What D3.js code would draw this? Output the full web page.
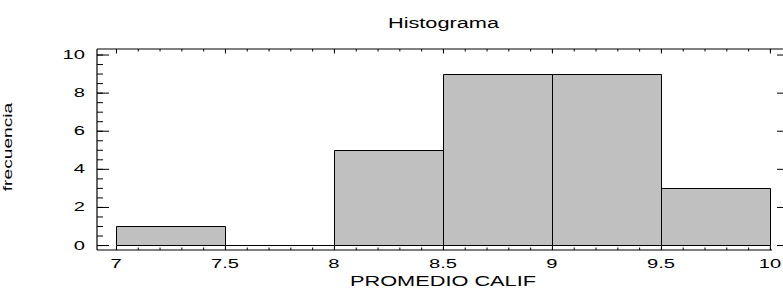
<!DOCTYPE html>
<html>
<head>
<script src="https://cdn.jsdelivr.net/npm/d3@7/dist/d3.min.js"></script>
<style>
  body { margin: 0; background: #fff; }
  svg { font-family: "Liberation Sans", Arial, sans-serif; }
  .tick line { stroke: #000; stroke-width: 1; }
  .frame { stroke: #000; stroke-width: 1.2; }
  .bar { fill: #c0c0c0; stroke: #000; stroke-width: 1; }
</style>
</head>
<body>
<div id="chart"></div>
<script>
// data
var binStart = [7, 7.5, 8, 8.5, 9, 9.5];
var binEnd   = [7.5, 8, 8.5, 9, 9.5, 10];
var counts   = [1, 0, 5, 9, 9, 3];

var xTicks = [7, 7.5, 8, 8.5, 9, 9.5, 10];
var xTickLabels = ['7', '7.5', '8', '8.5', '9', '9.5', '10'];
var yTicks = [0, 2, 4, 6, 8, 10];
var yTickLabels = ['0', '2', '4', '6', '8', '10'];

var title = 'Histograma';
var xTitle = 'PROMEDIO CALIF';
var yTitle = 'frecuencia';

(function (d3) {
  'use strict';

  var width = 783, height = 289;
  var left = 97, right = 783, top = 49, bottom = 250;

  var svg = d3.select('#chart').append('svg')
    .attr('width', width)
    .attr('height', height);

  var x = d3.scaleLinear().domain([6.913, 10.06]).range([left, right]);
  var y = d3.scaleLinear().domain([-0.26, 10.29]).range([bottom, top]);

  // snap to pixel centres so 1px strokes stay crisp
  function px(v) { return Math.round(v) + 0.5; }

  var xMinor = d3.range(70, 101).map(function (d) { return d / 10; });
  var yMinor = d3.range(0, 21).map(function (d) { return d / 2; });

  // bars (paths so an empty bin still shows its base line)
  var bins = counts.map(function (c, i) {
    return { x0: binStart[i], x1: binEnd[i], count: c };
  });
  svg.selectAll('.bar')
    .data(bins)
    .enter()
    .append('path')
    .attr('class', 'bar')
    .attr('d', function (d) {
      if (d.count === 0) {
        return 'M' + px(x(d.x0)) + ',' + px(y(0)) + 'H' + px(x(d.x1));
      }
      return 'M' + px(x(d.x0)) + ',' + px(y(0)) +
             'V' + px(y(d.count)) +
             'H' + px(x(d.x1)) +
             'V' + px(y(0)) + 'Z';
    });

  function noDomain(g) { g.select('.domain').remove(); }

  // left ticks
  svg.append('g').attr('transform', 'translate(' + left + ',0)')
    .call(d3.axisLeft(y).tickValues(yMinor).tickSize(-6).tickFormat(''))
    .call(noDomain);
  svg.append('g').attr('transform', 'translate(' + left + ',0)')
    .call(d3.axisLeft(y).tickValues(yTicks).tickSize(-12).tickFormat(''))
    .call(noDomain);
  // right ticks
  svg.append('g').attr('transform', 'translate(' + right + ',0)')
    .call(d3.axisRight(y).tickValues(yTicks).tickSize(-6).tickFormat(''))
    .call(noDomain);
  // top ticks
  svg.append('g').attr('transform', 'translate(0,' + top + ')')
    .call(d3.axisTop(x).tickValues(xMinor).tickSize(-2.5).tickFormat(''))
    .call(noDomain);
  svg.append('g').attr('transform', 'translate(0,' + top + ')')
    .call(d3.axisTop(x).tickValues(xTicks).tickSize(-4.5).tickFormat(''))
    .call(noDomain);
  // bottom ticks
  svg.append('g').attr('transform', 'translate(0,' + bottom + ')')
    .call(d3.axisBottom(x).tickValues(xMinor).tickSize(-2.5).tickFormat(''))
    .call(noDomain);
  svg.append('g').attr('transform', 'translate(0,' + bottom + ')')
    .call(d3.axisBottom(x).tickValues(xTicks).tickSize(-4.5).tickFormat(''))
    .call(noDomain);

  // frame
  svg.append('line').attr('class', 'frame')
    .attr('x1', left).attr('x2', left).attr('y1', top).attr('y2', bottom);
  svg.append('line').attr('class', 'frame')
    .attr('x1', left).attr('x2', right).attr('y1', top).attr('y2', top);
  svg.append('line').attr('class', 'frame')
    .attr('x1', left).attr('x2', x(10.01)).attr('y1', bottom).attr('y2', bottom);

  // tick labels
  svg.selectAll('.ylab')
    .data(yTicks)
    .enter()
    .append('text')
    .attr('class', 'ylab')
    .attr('text-anchor', 'end')
    .attr('font-size', 13)
    .attr('transform', function (d) {
      return 'translate(85,' + (y(d) + 4.5) + ') scale(1.55,1)';
    })
    .text(function (d, i) { return yTickLabels[i]; });

  svg.selectAll('.xlab')
    .data(xTicks)
    .enter()
    .append('text')
    .attr('class', 'xlab')
    .attr('text-anchor', 'middle')
    .attr('font-size', 13)
    .attr('transform', function (d) {
      return 'translate(' + x(d) + ',268) scale(1.55,1)';
    })
    .text(function (d, i) { return xTickLabels[i]; });

  // titles
  svg.append('text')
    .attr('text-anchor', 'middle')
    .attr('font-size', 15)
    .attr('transform', 'translate(443.5,28) scale(1.45,1)')
    .text(title);

  svg.append('text')
    .attr('text-anchor', 'middle')
    .attr('font-size', 15)
    .attr('transform', 'translate(443,286) scale(1.45,1)')
    .text(xTitle);

  svg.append('text')
    .attr('text-anchor', 'middle')
    .attr('font-size', 12)
    .attr('transform', 'translate(12,147) rotate(-90) scale(1.6,1)')
    .text(yTitle);
})(window.d3);
</script>
</body>
</html>
